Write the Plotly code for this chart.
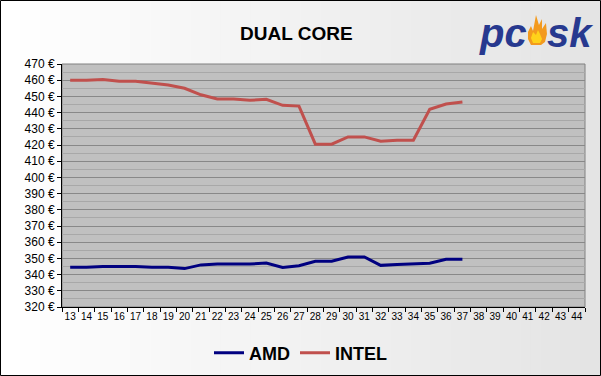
import plotly.graph_objects as go

weeks = [str(w) for w in range(13, 45)]
data_weeks = [str(w) for w in range(13, 38)]
amd = [344.5, 344.5, 345.0, 345.1, 345.0, 344.5, 344.5, 343.7, 346.0, 346.5, 346.5, 346.5, 347.2,
       344.4, 345.5, 348.2, 348.2, 350.9, 350.9, 345.7, 346.3, 346.5, 347.0, 349.4, 349.4]
intel = [460.0, 460.0, 460.5, 459.3, 459.3, 458.3, 457.0, 455.0, 451.0, 448.4, 448.4, 447.6, 448.2,
         444.5, 444.0, 420.5, 420.5, 425.0, 425.0, 422.3, 422.9, 423.0, 442.0, 445.3, 446.5]
y_ticks = list(range(320, 471, 10))
y_labels = [f"{v} €" for v in y_ticks]

W, H = 601, 376
L, R, T, B = 62, 16, 64, 69
pw, ph = W - L - R, H - T - B

def px(x):
    return (x - L) / pw

def py(y):
    return (H - B - y) / ph

fig = go.Figure()
fig.add_trace(go.Scatter(x=data_weeks, y=amd, name="AMD", mode="lines",
                         line=dict(color="#000080", width=3)))
fig.add_trace(go.Scatter(x=data_weeks, y=intel, name="INTEL", mode="lines",
                         line=dict(color="#c0504d", width=3)))

shapes = []
n = 60
for i in range(n):
    t = i / (n - 1)
    c = int(round(255 - t * (255 - 228)))
    shapes.append(dict(type="rect", xref="paper", yref="paper", layer="below",
                       x0=px(W * i / n), x1=px(W * (i + 1) / n + 1), y0=py(H), y1=py(0),
                       line=dict(width=0), fillcolor=f"rgb({c},{c},{c})"))
# plot area
shapes.append(dict(type="rect", xref="paper", yref="paper", layer="below",
                   x0=0, x1=1, y0=0, y1=1, fillcolor="#c0c0c0",
                   line=dict(color="#808080", width=1)))
# outer border
shapes.append(dict(type="rect", xref="paper", yref="paper", layer="above",
                   x0=px(0.5), x1=px(W - 0.5), y0=py(H - 0.5), y1=py(0.5),
                   line=dict(color="black", width=1)))
# flame logo
fx0, fy0 = 528, 45
def fp(pts):
    s = ""
    for k, (a, b) in enumerate(pts):
        s += ("M" if k == 0 else "L") + f"{px(fx0 + a):.4f},{py(fy0 - b):.4f} "
    return s + "Z"
outer = [(3, 0), (0, 6), (0, 13), (3, 19), (5, 14), (8, 30), (11, 20), (14, 26), (14, 16), (18, 22),
         (19, 11), (17, 3), (13, 0)]
inner = [(5, 2), (3, 7), (5, 13), (8, 10), (10, 15), (12, 11), (14, 6), (12, 2)]
shapes.append(dict(type="path", xref="paper", yref="paper", path=fp(outer),
                   fillcolor="#f39a1e", line=dict(width=0)))
shapes.append(dict(type="path", xref="paper", yref="paper", path=fp(inner),
                   fillcolor="#ffd21a", line=dict(width=0)))

annotations = [
    dict(text="<b>DUAL CORE</b>", x=px(296), y=py(33.5), xref="paper", yref="paper",
         xanchor="center", yanchor="middle", showarrow=False,
         font=dict(family="Liberation Sans, Arial", size=19, color="black")),
    dict(text="<b><i>pc</i></b>", x=px(529), y=py(33), xref="paper", yref="paper",
         xanchor="right", yanchor="middle", showarrow=False,
         font=dict(family="Liberation Sans Narrow, Liberation Sans, Arial", size=40, color="#27398f")),
    dict(text="<b><i>sk</i></b>", x=px(545), y=py(33), xref="paper", yref="paper",
         xanchor="left", yanchor="middle", showarrow=False,
         font=dict(family="Liberation Sans Narrow, Liberation Sans, Arial", size=40, color="#27398f")),
]

fig.update_layout(
    width=W, height=H,
    margin=dict(l=L, r=R, t=T, b=B, autoexpand=False),
    paper_bgcolor="white", plot_bgcolor="#c0c0c0",
    font=dict(family="Liberation Sans, Arial", color="black"),
    shapes=shapes, annotations=annotations,
    showlegend=True,
    legend=dict(orientation="h", x=px(301), xanchor="center", y=py(353), yanchor="middle",
                font=dict(size=18, family="Liberation Sans, Arial", color="black", weight="bold"),
                itemwidth=30, bgcolor="rgba(0,0,0,0)", tracegroupgap=0),
    xaxis=dict(type="category", categoryorder="array", categoryarray=weeks,
               range=[-0.5, len(weeks) - 0.5], tickson="boundaries", ticks="outside",
               ticklen=4, tickcolor="black", showgrid=False, showline=True, tickangle=0,
               linecolor="black", linewidth=1, tickfont=dict(size=10), zeroline=False),
    yaxis=dict(range=[320, 470], tickvals=y_ticks, ticktext=y_labels, ticks="outside",
               ticklen=4, tickcolor="black", showline=True, linecolor="black", linewidth=1,
               gridcolor="#888888", gridwidth=1, zeroline=False,
               tickfont=dict(size=12),
               minor=dict(tickvals=[v + 5 for v in y_ticks[:-1]], showgrid=True,
                          gridcolor="#a8a8a8", gridwidth=1, ticks="")),
)

fig.write_html("out.html", config={"displayModeBar": False},
               post_script="document.body.style.margin='0';")
